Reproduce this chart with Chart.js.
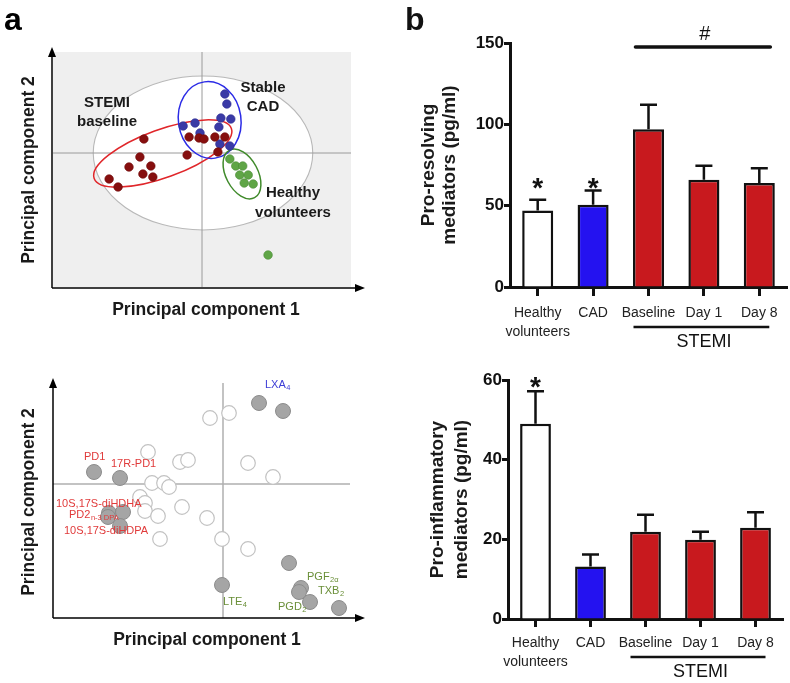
<!DOCTYPE html>
<html>
<head>
<meta charset="utf-8">
<script src="https://cdn.jsdelivr.net/npm/chart.js@4.4.0/dist/chart.umd.min.js"></script>
<style>
  html, body { margin: 0; padding: 0; background: #fff; }
  #fig { position: relative; width: 790px; height: 683px; overflow: hidden; }
  canvas { position: absolute; }
</style>
</head>
<body>
<div id="fig">
  <canvas id="pcaSamples" width="400" height="330" style="left:0;top:0"></canvas>
  <canvas id="pcaLoadings" width="400" height="353" style="left:0;top:330px"></canvas>
  <canvas id="barResolving" width="390" height="365" style="left:400px;top:0"></canvas>
  <canvas id="barInflam" width="390" height="328" style="left:400px;top:355px"></canvas>
</div>
<script>
// ---- panel a, top: sample scores [PC1, PC2] ----
const stemiScores = [[-1.17,0.28],[-0.26,0.32],[-0.06,0.30],[0.04,0.28],[0.26,0.32],[0.46,0.32],
  [-1.25,-0.08],[-0.30,-0.04],[0.32,0.02],[-1.47,-0.28],[-1.03,-0.26],[-1.19,-0.42],[-0.99,-0.48],
  [-1.87,-0.52],[-1.69,-0.68]];
const cadScores = [[0.46,1.18],[0.50,0.98],[0.38,0.70],[0.58,0.68],[-0.38,0.54],[-0.14,0.60],
  [0.34,0.52],[-0.04,0.40],[0.36,0.18],[0.56,0.14]];
const healthyScores = [[0.56,-0.12],[0.68,-0.26],[0.82,-0.26],[0.76,-0.44],[0.93,-0.44],
  [0.85,-0.60],[1.03,-0.62],[1.33,-2.04]];
// confidence ellipses: [centre PC1, centre PC2, semi-axis 1, semi-axis 2, angle deg]
const allEllipse = [0.02, 0.0, 2.21, 1.54, 0];
const stemiEllipse = [-0.79, -0.01, 1.47, 0.48, 20];
const cadEllipse = [0.155, 0.66, 0.63, 0.77, 8];
const healthyEllipse = [0.805, -0.42, 0.54, 0.32, -62];

// ---- panel a, bottom: mediator loadings [PC1, PC2] ----
const otherLoadings = [[-0.26,1.32],[0.12,1.42],[-1.50,0.64],[-0.86,0.44],[-0.70,0.48],[0.50,0.42],
  [1.00,0.14],[-1.42,0.02],[-1.18,0.02],[-1.08,-0.06],[-1.66,-0.26],[-1.56,-0.38],[-1.56,-0.54],
  [-1.30,-0.64],[-0.82,-0.46],[-0.32,-0.68],[-1.26,-1.10],[-0.02,-1.10],[0.50,-1.30]];
const keyLoadings = [[0.72,1.62],[1.20,1.46],[-2.58,0.24],[-2.06,0.12],[-2.28,-0.58],[-2.00,-0.56],
  [-2.30,-0.66],[-2.06,-0.84],[1.32,-1.58],[-0.02,-2.02],[1.56,-2.08],[1.52,-2.16],[1.74,-2.36],
  [2.32,-2.48]];
const mediatorNames = ['LXA_4','PD1','17R-PD1','10S,17S-diHDHA','PD2_n-3 DPA','10S,17S-diHDPA',
  'LTE_4','PGF_2α','TXB_2','PGD_2'];
const mediatorClass = ['lipoxin','dpa','dpa','dpa','dpa','dpa','eico','eico','eico','eico'];
// label anchors (left edge, middle) in PC units
const mediatorAnchor = [[0.84,1.98],[-2.78,0.54],[-2.24,0.40],[-3.34,-0.40],[-3.08,-0.62],
  [-3.18,-0.94],[0.0,-2.36],[1.68,-1.86],[1.90,-2.14],[1.10,-2.46]];

// ---- panel b: bars ----
const groups = [['Healthy','volunteers'], 'CAD', 'Baseline', 'Day 1', 'Day 8'];
const resolvingMean = [47, 50.6, 97, 66, 64];
const resolvingSem = [6.7, 8.8, 15, 8.6, 9];
const resolvingStars = ['*', '*', '', '', ''];
const resolvingTicks = [0, 50, 100, 150];
const inflamMean = [49, 13.2, 21.9, 19.9, 22.9];
const inflamSem = [8.2, 3, 4.3, 2, 3.9];
const inflamStars = ['*', '', '', '', ''];
const inflamTicks = [0, 20, 40, 60];

const FONT = "'Liberation Sans', Arial, Helvetica, sans-serif";
Chart.defaults.font.family = FONT;
Chart.defaults.color = '#111';

const pts = a => a.map(([x, y]) => ({ x, y }));

function arrow(ctx, x1, y1, x2, y2) {
  const ang = Math.atan2(y2 - y1, x2 - x1), L = 10, W = 4;
  ctx.beginPath(); ctx.moveTo(x1, y1);
  ctx.lineTo(x2 - L * Math.cos(ang), y2 - L * Math.sin(ang)); ctx.stroke();
  ctx.beginPath(); ctx.moveTo(x2, y2);
  ctx.lineTo(x2 - L * Math.cos(ang) + W * Math.sin(ang), y2 - L * Math.sin(ang) - W * Math.cos(ang));
  ctx.lineTo(x2 - L * Math.cos(ang) - W * Math.sin(ang), y2 - L * Math.sin(ang) + W * Math.cos(ang));
  ctx.closePath(); ctx.fill();
}

function ellipsePath(chart, e) {
  const xs = chart.scales.x, ys = chart.scales.y;
  const cx = xs.getPixelForValue(e[0]), cy = ys.getPixelForValue(e[1]);
  const rx = Math.abs(xs.getPixelForValue(e[0] + e[2]) - cx);
  const ry = Math.abs(ys.getPixelForValue(e[1] + e[3]) - cy);
  const ctx = chart.ctx;
  ctx.beginPath();
  ctx.ellipse(cx, cy, rx, ry, -e[4] * Math.PI / 180, 0, Math.PI * 2);
}

function pcTitles(ctx, area, yx, yy, xx, xy) {
  ctx.save();
  ctx.fillStyle = '#1a1a1a';
  ctx.font = 'bold 17.5px ' + FONT;
  ctx.textAlign = 'center'; ctx.textBaseline = 'middle';
  ctx.fillText('Principal component 1', xx, xy);
  ctx.translate(yx, yy); ctx.rotate(-Math.PI / 2);
  ctx.fillText('Principal component 2', 0, 0);
  ctx.restore();
}

const samplesDecor = {
  id: 'samplesDecor',
  beforeDatasetsDraw(chart) {
    const { ctx, chartArea: a } = chart;
    const xs = chart.scales.x, ys = chart.scales.y;
    ctx.save();
    ctx.fillStyle = '#efefef';
    ctx.fillRect(a.left, a.top, a.right - a.left, a.bottom - a.top);
    ellipsePath(chart, allEllipse);
    ctx.fillStyle = '#fff'; ctx.fill();
    ctx.strokeStyle = '#b8b8b8'; ctx.lineWidth = 1.1; ctx.stroke();
    const x0 = xs.getPixelForValue(0), y0 = ys.getPixelForValue(0);
    ctx.strokeStyle = '#9a9a9a'; ctx.lineWidth = 1;
    ctx.beginPath();
    ctx.moveTo(a.left, y0); ctx.lineTo(a.right, y0);
    ctx.moveTo(x0, a.top); ctx.lineTo(x0, a.bottom);
    ctx.stroke();
    [[stemiEllipse, '#e0262a'], [cadEllipse, '#2b2be6'], [healthyEllipse, '#3f8a2a']].forEach(([e, c]) => {
      ellipsePath(chart, e);
      ctx.strokeStyle = c; ctx.lineWidth = 1.5; ctx.stroke();
    });
    ctx.restore();
  },
  afterDraw(chart) {
    const { ctx, chartArea: a } = chart;
    ctx.save();
    ctx.strokeStyle = '#000'; ctx.fillStyle = '#000'; ctx.lineWidth = 1.5;
    arrow(ctx, a.left - 1, a.bottom + 1, a.left - 1, 47);
    arrow(ctx, a.left - 1, a.bottom + 1, 365, a.bottom + 1);
    ctx.fillStyle = '#1a1a1a';
    ctx.font = 'bold 15px ' + FONT;
    ctx.textAlign = 'center'; ctx.textBaseline = 'middle';
    ctx.fillText('STEMI', 107, 103); ctx.fillText('baseline', 107, 122);
    ctx.fillText('Stable', 263, 88); ctx.fillText('CAD', 263, 107);
    ctx.fillText('Healthy', 293, 193); ctx.fillText('volunteers', 293, 213);
    ctx.fillStyle = '#000';
    ctx.font = 'bold 32px ' + FONT;
    ctx.textAlign = 'left'; ctx.textBaseline = 'alphabetic';
    ctx.fillText('a', 4, 30);
    ctx.restore();
    pcTitles(ctx, a, 29, 170, 206, 310);
  }
};

new Chart(document.getElementById('pcaSamples'), {
  type: 'scatter',
  data: {
    datasets: [
      { data: pts(stemiScores), backgroundColor: '#860f0f', borderColor: '#700a0a', borderWidth: 0.6, pointRadius: 4.3 },
      { data: pts(cadScores), backgroundColor: '#3a3aa6', borderColor: '#2c2c90', borderWidth: 0.6, pointRadius: 4.3 },
      { data: pts(healthyScores), backgroundColor: '#5fa546', borderColor: '#4a8c36', borderWidth: 0.6, pointRadius: 4.3 }
    ]
  },
  options: {
    responsive: false, animation: false,
    layout: { padding: { left: 53, top: 52, right: 49, bottom: 43 } },
    plugins: { legend: { display: false }, tooltip: { enabled: false } },
    scales: {
      x: { display: false, min: -3, max: 3 },
      y: { display: false, min: -2.68, max: 2.02 }
    }
  },
  plugins: [samplesDecor]
});

const classColor = { lipoxin: '#3d3dd6', dpa: '#e03a3a', eico: '#6a8f38' };

function subText(ctx, x, y, label) {
  const [main, sub] = label.split('_');
  ctx.font = '11px ' + FONT;
  ctx.fillText(main, x, y);
  if (sub) {
    const w = ctx.measureText(main).width;
    ctx.font = '7.5px ' + FONT;
    ctx.fillText(sub, x + w + 0.5, y + 3);
  }
}

const loadingsDecor = {
  id: 'loadingsDecor',
  beforeDatasetsDraw(chart) {
    const { ctx, chartArea: a } = chart;
    const xs = chart.scales.x, ys = chart.scales.y;
    const x0 = xs.getPixelForValue(0), y0 = ys.getPixelForValue(0);
    ctx.save();
    ctx.strokeStyle = '#b0b0b0'; ctx.lineWidth = 1.5;
    ctx.beginPath();
    ctx.moveTo(a.left, y0); ctx.lineTo(a.right, y0);
    ctx.moveTo(x0, a.top); ctx.lineTo(x0, a.bottom);
    ctx.stroke();
    ctx.restore();
  },
  afterDraw(chart) {
    const { ctx, chartArea: a } = chart;
    const xs = chart.scales.x, ys = chart.scales.y;
    ctx.save();
    ctx.textAlign = 'left'; ctx.textBaseline = 'middle';
    mediatorNames.forEach((n, i) => {
      ctx.fillStyle = classColor[mediatorClass[i]];
      subText(ctx, xs.getPixelForValue(mediatorAnchor[i][0]), ys.getPixelForValue(mediatorAnchor[i][1]), n);
    });
    ctx.strokeStyle = '#000'; ctx.fillStyle = '#000'; ctx.lineWidth = 1.5;
    arrow(ctx, a.left, a.bottom, a.left, 48);
    arrow(ctx, a.left, a.bottom, 365, a.bottom);
    ctx.restore();
    pcTitles(ctx, a, 29, 172, 207, 310);
  }
};

new Chart(document.getElementById('pcaLoadings'), {
  type: 'scatter',
  data: {
    datasets: [
      { data: pts(otherLoadings), backgroundColor: '#ffffff', borderColor: '#c2c2c2', borderWidth: 1.2, pointRadius: 7.3 },
      { data: pts(keyLoadings), backgroundColor: '#a5a5a5', borderColor: '#8c8c8c', borderWidth: 1, pointRadius: 7.5 }
    ]
  },
  options: {
    responsive: false, animation: false,
    layout: { padding: { left: 53, top: 53, right: 50, bottom: 65 } },
    plugins: { legend: { display: false }, tooltip: { enabled: false } },
    scales: {
      x: { display: false, min: -3.4, max: 2.54 },
      y: { display: false, min: -2.68, max: 2.02 }
    }
  },
  plugins: [loadingsDecor]
});

// ---- panel b ----
const barDecor = {
  id: 'barDecor',
  afterDatasetsDraw(chart, args, o) {
    const { ctx } = chart;
    const ys = chart.scales.y, meta = chart.getDatasetMeta(0);
    ctx.save();
    ctx.strokeStyle = '#111'; ctx.lineWidth = 2.5;
    o.mean.forEach((m, i) => {
      const x = meta.data[i].x, y0 = ys.getPixelForValue(m), y1 = ys.getPixelForValue(m + o.sem[i]);
      ctx.beginPath();
      ctx.moveTo(x, y0); ctx.lineTo(x, y1);
      ctx.moveTo(x - 8.5, y1); ctx.lineTo(x + 8.5, y1);
      ctx.stroke();
    });
    ctx.fillStyle = '#111';
    ctx.font = 'bold 28px ' + FONT;
    ctx.textAlign = 'center'; ctx.textBaseline = 'alphabetic';
    o.stars.forEach((s, i) => {
      if (s) ctx.fillText(s, meta.data[i].x, ys.getPixelForValue(o.starLevel) + 16);
    });
    ctx.restore();
  },
  afterDraw(chart, args, o) {
    const { ctx, chartArea: a } = chart;
    const meta = chart.getDatasetMeta(0);
    const xb = meta.data[2].x, x8 = meta.data[4].x;
    ctx.save();
    ctx.strokeStyle = '#111'; ctx.fillStyle = '#111';
    ctx.lineWidth = 2.6;
    ctx.beginPath();
    ctx.moveTo(xb - 15, a.bottom + o.stemiLine); ctx.lineTo(x8 + 10, a.bottom + o.stemiLine);
    ctx.stroke();
    ctx.font = '18px ' + FONT;
    ctx.textAlign = 'center'; ctx.textBaseline = 'middle';
    ctx.fillText('STEMI', (xb + x8) / 2, a.bottom + o.stemiText);
    if (o.hash) {
      ctx.lineWidth = 3.6; ctx.lineCap = 'round';
      ctx.beginPath();
      ctx.moveTo(xb - 13, a.top + 4); ctx.lineTo(x8 + 11, a.top + 4);
      ctx.stroke();
      ctx.font = '20px ' + FONT;
      ctx.fillText('#', (xb + x8) / 2 + 1, a.top - 9);
    }
    if (o.letter) {
      ctx.font = 'bold 32px ' + FONT;
      ctx.textAlign = 'left'; ctx.textBaseline = 'alphabetic';
      ctx.fillText(o.letter, 5, 30);
    }
    ctx.restore();
  }
};

function makeBars(id, cfg) {
  return new Chart(document.getElementById(id), {
    type: 'bar',
    data: {
      labels: groups,
      datasets: [{
        data: cfg.mean,
        backgroundColor: ['#ffffff', '#2412f0', '#c8191e', '#c8191e', '#c8191e'],
        borderColor: '#111', borderWidth: 2.5,
        barPercentage: 0.56, categoryPercentage: 1
      }]
    },
    options: {
      responsive: false, animation: false,
      layout: { padding: cfg.pad },
      plugins: {
        legend: { display: false }, tooltip: { enabled: false },
        barDecor: { mean: cfg.mean, sem: cfg.sem, stars: cfg.stars, starLevel: cfg.starLevel,
          stemiLine: cfg.stemiLine, stemiText: cfg.stemiText, hash: cfg.hash, letter: cfg.letter }
      },
      scales: {
        x: {
          grid: { offset: false, drawOnChartArea: false, tickLength: cfg.tickLen, tickWidth: 3, tickColor: '#111' },
          border: { color: '#111', width: 3 },
          ticks: { font: { size: 14, lineHeight: 1.36 }, color: '#222', padding: cfg.xPad, maxRotation: 0, autoSkip: false },
          afterFit: s => { s.height = cfg.xHeight; }
        },
        y: {
          min: cfg.ticks[0], max: cfg.ticks[cfg.ticks.length - 1],
          afterBuildTicks: s => { s.ticks = cfg.ticks.map(v => ({ value: v })); },
          grid: { drawOnChartArea: false, tickLength: 6, tickWidth: 3, tickColor: '#111' },
          border: { color: '#111', width: 3 },
          ticks: { font: { size: 17, weight: 'bold' }, color: '#111', padding: 0 },
          title: { display: true, text: cfg.title, color: '#1a1a1a',
            font: { size: 19, weight: 'bold', lineHeight: cfg.titleLH }, padding: { top: cfg.titlePad, bottom: 0 } },
          afterFit: s => { s.width = cfg.yWidth; }
        }
      }
    },
    plugins: [barDecor]
  });
}

makeBars('barResolving', {
  mean: resolvingMean, sem: resolvingSem, stars: resolvingStars, starLevel: 65, ticks: resolvingTicks,
  title: ['Pro-resolving', 'mediators (pg/ml)'], titleLH: 1.1, titlePad: 8.5,
  pad: { left: 10, top: 43, right: 3, bottom: 0 }, yWidth: 100, xHeight: 78,
  tickLen: 9, xPad: 7.5, stemiLine: 40, stemiText: 55, hash: true, letter: 'b'
});

makeBars('barInflam', {
  mean: inflamMean, sem: inflamSem, stars: inflamStars, starLevel: 60, ticks: inflamTicks,
  title: ['Pro-inflammatory', 'mediators (pg/ml)'], titleLH: 1.26, titlePad: 16,
  pad: { left: 10, top: 25, right: 7, bottom: 0 }, yWidth: 98, xHeight: 64,
  tickLen: 8, xPad: 6.5, stemiLine: 38, stemiText: 53, hash: false, letter: ''
});
</script>
</body>
</html>
